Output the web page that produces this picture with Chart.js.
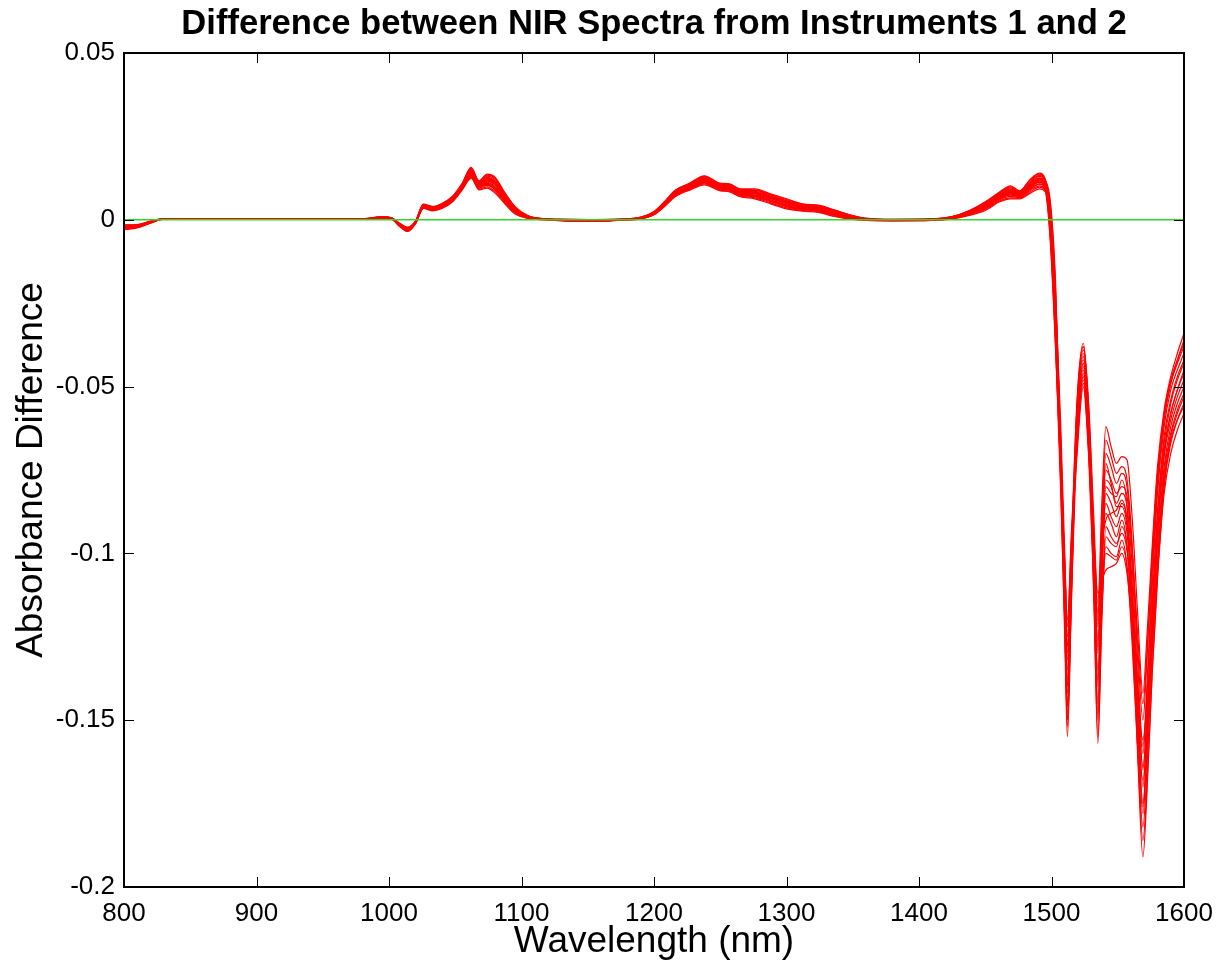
<!DOCTYPE html>
<html>
<head>
<meta charset="utf-8">
<title>Difference between NIR Spectra</title>
<script src="https://cdn.jsdelivr.net/npm/chart.js@4"></script>
<style>
  html, body { margin: 0; padding: 0; background: #fff; }
  #wrap { width: 1218px; height: 968px; position: relative; }
</style>
</head>
<body>
<div id="wrap"><canvas id="chart"></canvas></div>
<script>
// ============================================================
// Difference between NIR spectra from instruments 1 and 2
// One red trace per sample, green line at zero difference.
// ============================================================

// ---------- Data ----------

// Wavelength grid (nm) — denser where the spectra change fast
const wavelengths = [
  800, 810, 820, 830, 860, 900, 940, 980, 995, 1002,
  1008, 1014, 1020, 1026, 1033, 1040, 1048, 1055, 1062, 1068,
  1074, 1080, 1087, 1095, 1105, 1118, 1135, 1155, 1175, 1190,
  1200, 1208, 1216, 1227, 1238, 1250, 1257, 1265, 1276, 1288,
  1300, 1312, 1324, 1336, 1348, 1360, 1380, 1410, 1425, 1438,
  1450, 1461, 1469, 1476, 1484, 1491, 1495, 1499, 1503, 1507,
  1510, 1512, 1515, 1519, 1524, 1528, 1532, 1535, 1538, 1541,
  1545, 1549, 1553, 1557, 1561, 1565, 1569, 1572, 1576, 1580,
  1585, 1590, 1595, 1600,
];

// Absorbance difference per sample (instrument 1 − instrument 2)
const spectrum01 = [
  -0.0015, -0.0014, -0.0004, 0.0004, 0.0004, 0.0004, 0.0003, 0.0003, 0.0010, 0.0006,
  -0.0010, -0.0022, -0.0003, 0.0047, 0.0040, 0.0049, 0.0071, 0.0108, 0.0157, 0.0117,
  0.0137, 0.0128, 0.0084, 0.0040, 0.0012, 0.0003, 0.0002, 0.0001, 0.0002, 0.0008,
  0.0025, 0.0055, 0.0089, 0.0110, 0.0132, 0.0110, 0.0108, 0.0093, 0.0093, 0.0078,
  0.0063, 0.0048, 0.0044, 0.0030, 0.0015, 0.0005, 0.0002, 0.0003, 0.0010, 0.0028,
  0.0054, 0.0084, 0.0102, 0.0087, 0.0122, 0.0140, 0.0125, 0.004, -0.022, -0.062,
  -0.100, -0.125, -0.098, -0.056, -0.037, -0.055, -0.090, -0.115, -0.085, -0.062,
  -0.068, -0.073, -0.071, -0.072, -0.090, -0.118, -0.142, -0.125, -0.098, -0.074,
  -0.057, -0.047, -0.040, -0.034,
];
const spectrum02 = [
  -0.0017, -0.0016, -0.0005, 0.0004, 0.0004, 0.0003, 0.0003, 0.0003, 0.0009, 0.0005,
  -0.0012, -0.0024, -0.0005, 0.0045, 0.0038, 0.0047, 0.0068, 0.0105, 0.0152, 0.0113,
  0.0131, 0.0121, 0.0079, 0.0037, 0.0011, 0.0003, 0.0001, 0.0000, 0.0002, 0.0007,
  0.0023, 0.0053, 0.0086, 0.0107, 0.0128, 0.0107, 0.0104, 0.0089, 0.0088, 0.0074,
  0.0058, 0.0045, 0.0041, 0.0027, 0.0013, 0.0004, 0.0001, 0.0002, 0.0009, 0.0026,
  0.0050, 0.0080, 0.0096, 0.0083, 0.0116, 0.0133, 0.0119, 0.002, -0.030, -0.080,
  -0.125, -0.155, -0.115, -0.062, -0.041, -0.062, -0.108, -0.150, -0.108, -0.078,
  -0.080, -0.085, -0.082, -0.086, -0.105, -0.138, -0.165, -0.148, -0.115, -0.088,
  -0.067, -0.055, -0.048, -0.043,
];
const spectrum03 = [
  -0.0020, -0.0017, -0.0006, 0.0003, 0.0003, 0.0003, 0.0002, 0.0002, 0.0008, 0.0005,
  -0.0013, -0.0026, -0.0006, 0.0043, 0.0036, 0.0045, 0.0066, 0.0102, 0.0147, 0.0109,
  0.0124, 0.0114, 0.0074, 0.0033, 0.0010, 0.0002, 0.0000, -0.0001, 0.0001, 0.0006,
  0.0022, 0.0050, 0.0083, 0.0104, 0.0124, 0.0103, 0.0101, 0.0086, 0.0084, 0.0069,
  0.0054, 0.0041, 0.0037, 0.0024, 0.0011, 0.0003, 0.0000, 0.0001, 0.0008, 0.0024,
  0.0046, 0.0075, 0.0090, 0.0080, 0.0110, 0.0126, 0.0113, 0.000, -0.028, -0.072,
  -0.112, -0.140, -0.105, -0.066, -0.044, -0.064, -0.102, -0.130, -0.102, -0.085,
  -0.089, -0.092, -0.088, -0.094, -0.115, -0.148, -0.175, -0.158, -0.124, -0.095,
  -0.071, -0.060, -0.053, -0.048,
];
const spectrum04 = [
  -0.0021, -0.0018, -0.0007, 0.0003, 0.0003, 0.0003, 0.0002, 0.0002, 0.0007, 0.0004,
  -0.0014, -0.0027, -0.0007, 0.0042, 0.0035, 0.0043, 0.0064, 0.0100, 0.0144, 0.0106,
  0.0120, 0.0109, 0.0070, 0.0031, 0.0009, 0.0002, -0.0001, -0.0002, 0.0001, 0.0006,
  0.0021, 0.0049, 0.0081, 0.0102, 0.0121, 0.0101, 0.0098, 0.0083, 0.0081, 0.0066,
  0.0051, 0.0039, 0.0035, 0.0022, 0.0010, 0.0002, 0.0000, 0.0001, 0.0007, 0.0022,
  0.0044, 0.0072, 0.0086, 0.0077, 0.0105, 0.0122, 0.0109, 0.003, -0.024, -0.066,
  -0.108, -0.135, -0.100, -0.058, -0.039, -0.060, -0.112, -0.157, -0.118, -0.092,
  -0.095, -0.097, -0.094, -0.099, -0.116, -0.140, -0.160, -0.143, -0.110, -0.082,
  -0.062, -0.051, -0.045, -0.040,
];
const spectrum05 = [
  -0.0023, -0.0019, -0.0007, 0.0003, 0.0003, 0.0003, 0.0002, 0.0002, 0.0007, 0.0004,
  -0.0015, -0.0028, -0.0008, 0.0040, 0.0034, 0.0042, 0.0062, 0.0098, 0.0140, 0.0103,
  0.0116, 0.0104, 0.0067, 0.0029, 0.0008, 0.0002, -0.0001, -0.0002, 0.0000, 0.0005,
  0.0020, 0.0047, 0.0079, 0.0099, 0.0118, 0.0098, 0.0096, 0.0081, 0.0078, 0.0063,
  0.0048, 0.0037, 0.0033, 0.0020, 0.0008, 0.0001, -0.0001, 0.0000, 0.0006, 0.0020,
  0.0041, 0.0069, 0.0082, 0.0075, 0.0101, 0.0117, 0.0105, -0.002, -0.032, -0.070,
  -0.104, -0.128, -0.098, -0.068, -0.046, -0.066, -0.098, -0.122, -0.100, -0.088,
  -0.091, -0.095, -0.090, -0.098, -0.125, -0.160, -0.191, -0.172, -0.136, -0.108,
  -0.080, -0.067, -0.060, -0.055,
];
const spectrum06 = [
  -0.0024, -0.0020, -0.0008, 0.0003, 0.0003, 0.0003, 0.0002, 0.0002, 0.0006, 0.0004,
  -0.0016, -0.0030, -0.0008, 0.0039, 0.0032, 0.0040, 0.0061, 0.0096, 0.0137, 0.0101,
  0.0112, 0.0099, 0.0064, 0.0027, 0.0007, 0.0001, -0.0002, -0.0003, 0.0000, 0.0005,
  0.0019, 0.0046, 0.0077, 0.0097, 0.0116, 0.0096, 0.0094, 0.0079, 0.0075, 0.0060,
  0.0045, 0.0035, 0.0031, 0.0018, 0.0007, 0.0001, -0.0001, 0.0000, 0.0006, 0.0019,
  0.0038, 0.0066, 0.0078, 0.0072, 0.0097, 0.0112, 0.0101, 0.005, -0.020, -0.068,
  -0.115, -0.145, -0.108, -0.060, -0.038, -0.058, -0.104, -0.140, -0.098, -0.070,
  -0.074, -0.079, -0.076, -0.080, -0.100, -0.128, -0.150, -0.132, -0.102, -0.078,
  -0.058, -0.048, -0.042, -0.037,
];
const spectrum07 = [
  -0.0026, -0.0021, -0.0008, 0.0002, 0.0003, 0.0002, 0.0002, 0.0002, 0.0006, 0.0003,
  -0.0017, -0.0031, -0.0009, 0.0038, 0.0031, 0.0038, 0.0059, 0.0094, 0.0134, 0.0098,
  0.0108, 0.0094, 0.0060, 0.0025, 0.0006, 0.0001, -0.0002, -0.0003, 0.0000, 0.0004,
  0.0018, 0.0044, 0.0075, 0.0095, 0.0113, 0.0094, 0.0091, 0.0076, 0.0072, 0.0057,
  0.0042, 0.0033, 0.0029, 0.0016, 0.0006, 0.0000, -0.0002, -0.0001, 0.0005, 0.0017,
  0.0036, 0.0063, 0.0074, 0.0070, 0.0093, 0.0107, 0.0097, -0.004, -0.036, -0.082,
  -0.122, -0.150, -0.114, -0.070, -0.048, -0.068, -0.106, -0.135, -0.112, -0.098,
  -0.100, -0.101, -0.096, -0.104, -0.128, -0.158, -0.182, -0.165, -0.130, -0.102,
  -0.076, -0.064, -0.057, -0.052,
];
const spectrum08 = [
  -0.0027, -0.0022, -0.0009, 0.0002, 0.0002, 0.0002, 0.0001, 0.0001, 0.0005, 0.0003,
  -0.0018, -0.0032, -0.0010, 0.0037, 0.0030, 0.0037, 0.0057, 0.0092, 0.0131, 0.0095,
  0.0103, 0.0090, 0.0057, 0.0023, 0.0006, 0.0001, -0.0003, -0.0004, 0.0000, 0.0004,
  0.0017, 0.0043, 0.0073, 0.0093, 0.0110, 0.0092, 0.0089, 0.0074, 0.0069, 0.0054,
  0.0039, 0.0030, 0.0026, 0.0014, 0.0004, -0.0001, -0.0002, -0.0001, 0.0004, 0.0016,
  0.0033, 0.0060, 0.0070, 0.0067, 0.0089, 0.0102, 0.0093, 0.001, -0.026, -0.070,
  -0.108, -0.132, -0.102, -0.064, -0.043, -0.063, -0.106, -0.145, -0.108, -0.082,
  -0.085, -0.089, -0.085, -0.090, -0.110, -0.143, -0.170, -0.152, -0.120, -0.092,
  -0.069, -0.058, -0.051, -0.046,
];
const spectrum09 = [
  -0.0029, -0.0023, -0.0009, 0.0002, 0.0002, 0.0002, 0.0001, 0.0001, 0.0005, 0.0002,
  -0.0019, -0.0034, -0.0011, 0.0035, 0.0028, 0.0036, 0.0056, 0.0090, 0.0127, 0.0092,
  0.0099, 0.0085, 0.0053, 0.0020, 0.0005, 0.0000, -0.0003, -0.0004, -0.0001, 0.0003,
  0.0016, 0.0041, 0.0071, 0.0091, 0.0108, 0.0089, 0.0086, 0.0071, 0.0066, 0.0051,
  0.0036, 0.0028, 0.0024, 0.0012, 0.0003, -0.0001, -0.0003, -0.0002, 0.0004, 0.0015,
  0.0031, 0.0057, 0.0066, 0.0065, 0.0084, 0.0098, 0.0089, -0.006, -0.038, -0.076,
  -0.102, -0.120, -0.096, -0.072, -0.050, -0.070, -0.096, -0.112, -0.108, -0.105,
  -0.104, -0.103, -0.100, -0.106, -0.122, -0.142, -0.156, -0.145, -0.125, -0.105,
  -0.082, -0.070, -0.063, -0.058,
];
const spectrum10 = [
  -0.0030, -0.0024, -0.0010, 0.0002, 0.0002, 0.0002, 0.0001, 0.0001, 0.0004, 0.0002,
  -0.0020, -0.0035, -0.0012, 0.0034, 0.0027, 0.0034, 0.0054, 0.0088, 0.0124, 0.0090,
  0.0095, 0.0080, 0.0050, 0.0018, 0.0004, 0.0000, -0.0004, -0.0005, -0.0001, 0.0003,
  0.0015, 0.0040, 0.0069, 0.0089, 0.0105, 0.0087, 0.0084, 0.0069, 0.0063, 0.0048,
  0.0033, 0.0026, 0.0022, 0.0010, 0.0002, -0.0002, -0.0003, -0.0002, 0.0003, 0.0013,
  0.0028, 0.0054, 0.0063, 0.0063, 0.0080, 0.0093, 0.0085, 0.003, -0.025, -0.068,
  -0.110, -0.138, -0.104, -0.061, -0.040, -0.061, -0.100, -0.126, -0.096, -0.075,
  -0.078, -0.082, -0.080, -0.083, -0.100, -0.124, -0.145, -0.130, -0.100, -0.076,
  -0.059, -0.049, -0.043, -0.038,
];
const spectrum11 = [
  -0.0022, -0.0018, -0.0007, 0.0003, 0.0003, 0.0003, 0.0002, 0.0002, 0.0007, 0.0004,
  -0.0014, -0.0028, -0.0007, 0.0041, 0.0034, 0.0042, 0.0063, 0.0099, 0.0142, 0.0105,
  0.0118, 0.0106, 0.0069, 0.0030, 0.0008, 0.0002, -0.0001, -0.0002, 0.0001, 0.0005,
  0.0020, 0.0048, 0.0080, 0.0100, 0.0120, 0.0100, 0.0097, 0.0082, 0.0080, 0.0065,
  0.0050, 0.0038, 0.0034, 0.0021, 0.0009, 0.0002, -0.0001, 0.0000, 0.0006, 0.0021,
  0.0042, 0.0070, 0.0084, 0.0076, 0.0103, 0.0119, 0.0107, -0.001, -0.030, -0.074,
  -0.115, -0.142, -0.108, -0.066, -0.045, -0.064, -0.096, -0.118, -0.098, -0.090,
  -0.088, -0.087, -0.084, -0.090, -0.112, -0.142, -0.164, -0.150, -0.122, -0.098,
  -0.074, -0.062, -0.055, -0.050,
];
const spectrum12 = [
  -0.0019, -0.0017, -0.0006, 0.0003, 0.0004, 0.0003, 0.0003, 0.0002, 0.0008, 0.0005,
  -0.0012, -0.0025, -0.0005, 0.0044, 0.0037, 0.0046, 0.0067, 0.0103, 0.0149, 0.0111,
  0.0127, 0.0116, 0.0076, 0.0035, 0.0010, 0.0002, 0.0000, -0.0001, 0.0001, 0.0007,
  0.0022, 0.0051, 0.0084, 0.0105, 0.0125, 0.0104, 0.0102, 0.0087, 0.0085, 0.0071,
  0.0056, 0.0043, 0.0039, 0.0025, 0.0012, 0.0003, 0.0000, 0.0002, 0.0008, 0.0025,
  0.0048, 0.0077, 0.0093, 0.0081, 0.0113, 0.0130, 0.0116, 0.002, -0.028, -0.076,
  -0.120, -0.148, -0.110, -0.063, -0.042, -0.064, -0.114, -0.155, -0.120, -0.095,
  -0.097, -0.098, -0.092, -0.098, -0.120, -0.152, -0.178, -0.160, -0.124, -0.094,
  -0.070, -0.058, -0.051, -0.045,
];
const spectrum13 = [
  -0.0028, -0.0022, -0.0009, 0.0002, 0.0002, 0.0002, 0.0001, 0.0001, 0.0005, 0.0003,
  -0.0018, -0.0033, -0.0010, 0.0036, 0.0029, 0.0037, 0.0058, 0.0093, 0.0133, 0.0097,
  0.0106, 0.0092, 0.0058, 0.0024, 0.0006, 0.0001, -0.0003, -0.0004, 0.0000, 0.0004,
  0.0017, 0.0043, 0.0074, 0.0094, 0.0112, 0.0093, 0.0090, 0.0075, 0.0071, 0.0056,
  0.0041, 0.0032, 0.0028, 0.0015, 0.0005, 0.0000, -0.0002, -0.0001, 0.0005, 0.0018,
  0.0037, 0.0064, 0.0077, 0.0069, 0.0092, 0.0108, 0.0096, -0.003, -0.034, -0.074,
  -0.104, -0.122, -0.094, -0.067, -0.047, -0.068, -0.108, -0.138, -0.104, -0.080,
  -0.082, -0.083, -0.078, -0.086, -0.118, -0.158, -0.186, -0.170, -0.135, -0.106,
  -0.079, -0.066, -0.060, -0.056,
];
const spectrum14 = [
  -0.0016, -0.0015, -0.0004, 0.0004, 0.0004, 0.0004, 0.0003, 0.0003, 0.0009, 0.0006,
  -0.0011, -0.0023, -0.0004, 0.0046, 0.0039, 0.0048, 0.0070, 0.0107, 0.0154, 0.0115,
  0.0134, 0.0125, 0.0082, 0.0039, 0.0012, 0.0003, 0.0001, 0.0001, 0.0002, 0.0008,
  0.0024, 0.0054, 0.0088, 0.0109, 0.0130, 0.0108, 0.0106, 0.0091, 0.0090, 0.0076,
  0.0061, 0.0047, 0.0043, 0.0029, 0.0014, 0.0004, 0.0001, 0.0003, 0.0010, 0.0027,
  0.0052, 0.0082, 0.0099, 0.0085, 0.0119, 0.0137, 0.0122, 0.006, -0.018, -0.070,
  -0.120, -0.152, -0.112, -0.058, -0.038, -0.056, -0.094, -0.120, -0.090, -0.066,
  -0.071, -0.076, -0.074, -0.078, -0.098, -0.132, -0.158, -0.140, -0.106, -0.080,
  -0.060, -0.049, -0.042, -0.036,
];
const spectrum15 = [
  -0.0025, -0.0021, -0.0008, 0.0003, 0.0003, 0.0002, 0.0002, 0.0002, 0.0006, 0.0003,
  -0.0016, -0.0030, -0.0009, 0.0038, 0.0032, 0.0039, 0.0060, 0.0095, 0.0136, 0.0100,
  0.0110, 0.0097, 0.0062, 0.0026, 0.0007, 0.0001, -0.0002, -0.0003, 0.0000, 0.0005,
  0.0019, 0.0045, 0.0076, 0.0096, 0.0115, 0.0095, 0.0093, 0.0078, 0.0074, 0.0059,
  0.0044, 0.0034, 0.0030, 0.0017, 0.0007, 0.0001, -0.0001, 0.0000, 0.0005, 0.0018,
  0.0039, 0.0067, 0.0080, 0.0073, 0.0099, 0.0114, 0.0102, -0.005, -0.037, -0.078,
  -0.110, -0.130, -0.100, -0.070, -0.049, -0.070, -0.112, -0.148, -0.116, -0.100,
  -0.101, -0.102, -0.098, -0.104, -0.124, -0.150, -0.168, -0.155, -0.128, -0.104,
  -0.078, -0.065, -0.058, -0.053,
];
const spectrum16 = [
  -0.0019, -0.0017, -0.0006, 0.0003, 0.0003, 0.0003, 0.0002, 0.0002, 0.0008, 0.0005,
  -0.0013, -0.0026, -0.0006, 0.0043, 0.0036, 0.0044, 0.0065, 0.0101, 0.0146, 0.0108,
  0.0123, 0.0112, 0.0073, 0.0033, 0.0009, 0.0002, 0.0000, -0.0001, 0.0001, 0.0006,
  0.0021, 0.0050, 0.0082, 0.0103, 0.0123, 0.0102, 0.0100, 0.0085, 0.0083, 0.0068,
  0.0053, 0.0040, 0.0036, 0.0023, 0.0011, 0.0003, 0.0000, 0.0001, 0.0007, 0.0023,
  0.0045, 0.0074, 0.0089, 0.0079, 0.0108, 0.0124, 0.0111, 0.001, -0.027, -0.072,
  -0.116, -0.146, -0.110, -0.064, -0.043, -0.062, -0.102, -0.128, -0.096, -0.073,
  -0.079, -0.086, -0.086, -0.092, -0.114, -0.150, -0.176, -0.156, -0.118, -0.088,
  -0.065, -0.054, -0.047, -0.042,
];

const spectra = [
  spectrum01, spectrum02, spectrum03, spectrum04, spectrum05, spectrum06,
  spectrum07, spectrum08, spectrum09, spectrum10, spectrum11, spectrum12,
  spectrum13, spectrum14, spectrum15, spectrum16,
];

// Zero-difference reference line
const zeroWavelengths = [800, 1600];
const zeroLevel = [0, 0];

// Axis ticks
const xTicks = [800, 900, 1000, 1100, 1200, 1300, 1400, 1500, 1600];
const yTicks = [-0.2, -0.15, -0.1, -0.05, 0, 0.05];

// ---------- Helpers ----------

const toPoints = (xs, ys) => xs.map((x, i) => ({ x, y: ys[i] }));

const FONT = '"Liberation Sans", Arial, Helvetica, sans-serif';

// MATLAB-style frame: box round the plot, ticks pointing inwards on all four sides
const framePlugin = {
  id: 'frame',
  afterDatasetsDraw(chart) {
    const { ctx, chartArea: a, scales } = chart;
    const TICK = 10;
    ctx.save();
    ctx.strokeStyle = '#000';

    ctx.lineWidth = 1;
    ctx.beginPath();
    xTicks.slice(1, -1).forEach(v => {
      const px = Math.round(scales.x.getPixelForValue(v)) + 0.5;
      ctx.moveTo(px, a.bottom); ctx.lineTo(px, a.bottom - TICK);
      ctx.moveTo(px, a.top);    ctx.lineTo(px, a.top + TICK);
    });
    yTicks.slice(1, -1).forEach(v => {
      const py = Math.round(scales.y.getPixelForValue(v)) + 0.5;
      ctx.moveTo(a.left, py);  ctx.lineTo(a.left + TICK, py);
      ctx.moveTo(a.right, py); ctx.lineTo(a.right - TICK, py);
    });
    ctx.stroke();

    ctx.lineWidth = 2;
    ctx.strokeRect(a.left, a.top, a.right - a.left, a.bottom - a.top);
    ctx.restore();
  },
};

// ---------- Chart ----------

Chart.defaults.font.family = FONT;
Chart.defaults.color = '#000';

const datasets = spectra.map(s => ({
  data: toPoints(wavelengths, s),
  borderColor: '#ff0000',
  borderWidth: 1.2,
  pointRadius: 0,
  cubicInterpolationMode: 'monotone',
  fill: false,
  order: 2,
}));

datasets.push({
  data: toPoints(zeroWavelengths, zeroLevel),
  borderColor: '#2fd62f',
  borderWidth: 1.6,
  pointRadius: 0,
  fill: false,
  order: 1,
});

new Chart(document.getElementById('chart'), {
  type: 'line',
  data: { datasets },
  options: {
    responsive: true,
    maintainAspectRatio: false,
    animation: false,
    layout: { padding: { left: 0, right: 34, top: 0, bottom: 0 } },
    plugins: {
      legend: { display: false },
      tooltip: { enabled: false },
      title: {
        display: true,
        text: 'Difference between NIR Spectra from Instruments 1 and 2',
        fullSize: false,
        color: '#000',
        font: { size: 34.6, weight: 'bold', family: FONT },
        padding: { top: 4, bottom: 7.5 },
      },
    },
    scales: {
      x: {
        type: 'linear',
        min: 800,
        max: 1600,
        afterBuildTicks: (scale) => { scale.ticks = xTicks.map(value => ({ value })); },
        afterFit: (scale) => {
          scale.height = 81;
          scale.paddingLeft = 0;
          scale.paddingRight = 0;
        },
        grid: { display: false, drawTicks: false },
        border: { display: false },
        ticks: {
          font: { size: 26, family: FONT },
          color: '#000',
          padding: 11,
          maxRotation: 0,
          autoSkip: false,
          callback: (v) => String(v),
        },
        title: {
          display: true,
          text: 'Wavelength (nm)',
          font: { size: 37, family: FONT },
          color: '#000',
          padding: { top: 0, bottom: 4 },
        },
      },
      y: {
        type: 'linear',
        min: -0.2,
        max: 0.05,
        afterBuildTicks: (scale) => { scale.ticks = yTicks.map(value => ({ value })); },
        afterFit: (scale) => {
          scale.width = 124;
          scale.paddingTop = 0;
          scale.paddingBottom = 0;
        },
        grid: { display: false, drawTicks: false },
        border: { display: false },
        ticks: {
          font: { size: 26, family: FONT },
          color: '#000',
          padding: 9,
          autoSkip: false,
          callback: (v) => String(Math.round(v * 100) / 100),
        },
        title: {
          display: true,
          text: 'Absorbance Difference',
          font: { size: 37, family: FONT },
          color: '#000',
          padding: { top: 10, bottom: 0 },
        },
      },
    },
  },
  plugins: [framePlugin],
});
</script>
</body>
</html>
